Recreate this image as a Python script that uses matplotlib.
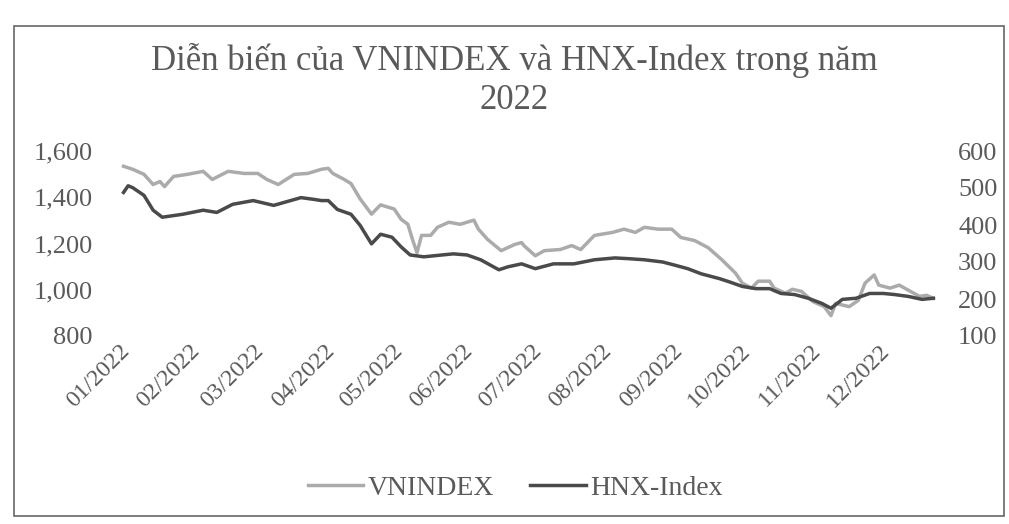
import matplotlib
matplotlib.use("Agg")
import matplotlib.pyplot as plt
from matplotlib.patches import Rectangle
import pandas as pd

# values (day of year 2022 -> index level)
vn_day = [2, 6, 11, 15, 18, 20, 24, 30, 37, 41, 48, 55, 61, 65, 70, 77, 83, 89,
          92, 94, 99, 102, 106, 111, 115, 121, 124, 127, 129, 131, 133, 137, 140,
          145, 150, 156, 158, 162, 168, 174, 177, 178, 183, 187, 194, 199, 203,
          209, 217, 222, 227, 231, 237, 243, 247, 253, 259, 265, 271, 274, 278,
          281, 286, 288, 293, 296, 300, 305, 310, 313, 315, 321, 325, 328, 332,
          334, 339, 343, 347, 352, 355, 358]
vnindex = [1534, 1521, 1499, 1455, 1468, 1446, 1490, 1499, 1512, 1477, 1512, 1503,
           1503, 1477, 1455, 1499, 1503, 1521, 1525, 1503, 1477, 1459, 1393, 1327,
           1367, 1349, 1305, 1283, 1218, 1160, 1235, 1235, 1270, 1292, 1283, 1301,
           1262, 1218, 1169, 1196, 1204, 1191, 1147, 1169, 1174, 1191, 1174, 1235,
           1248, 1262, 1248, 1270, 1262, 1262, 1226, 1213, 1182, 1130, 1072, 1029,
           1007, 1037, 1037, 1007, 985, 1002, 993, 949, 927, 888, 941, 927, 954,
           1029, 1064, 1020, 1007, 1020, 998, 971, 976, 963]

hnx_day = [2, 4, 6, 11, 15, 19, 28, 37, 43, 50, 59, 68, 80, 86, 89, 92, 96, 102,
           106, 111, 115, 120, 124, 128, 134, 142, 147, 153, 159, 167, 171, 177,
           183, 191, 200, 209, 218, 224, 231, 239, 244, 250, 256, 264, 268, 274,
           280, 286, 291, 297, 303, 309, 313, 318, 324, 330, 336, 341, 347, 353, 358]
hnx = [488, 506, 501, 480, 440, 421, 429, 440, 434, 456, 466, 453, 474, 469, 466,
       466, 442, 429, 399, 349, 375, 367, 341, 319, 314, 319, 322, 319, 306, 279,
       287, 295, 282, 295, 295, 306, 311, 309, 306, 300, 292, 282, 268, 255, 247,
       234, 228, 228, 215, 212, 202, 188, 175, 199, 202, 215, 215, 212, 207, 199,
       202]

month_labels = ["01/2022", "02/2022", "03/2022", "04/2022", "05/2022", "06/2022",
                "07/2022", "08/2022", "09/2022", "10/2022", "11/2022", "12/2022"]

title = "Diễn biến của VNINDEX và HNX-Index trong năm\n2022"

start = pd.Timestamp("2022-01-01")
vn_dates = start + pd.to_timedelta(vn_day, unit="D")
hnx_dates = start + pd.to_timedelta(hnx_day, unit="D")
month_ticks = pd.date_range("2022-01-01", periods=12, freq="MS")

plt.rcParams["font.family"] = ["Liberation Serif", "DejaVu Serif"]
txt = "#5a5a5a"
light = "#ababab"
dark = "#4a4a4a"

fig = plt.figure(figsize=(10.09, 5.24), dpi=100)
fig.patch.set_facecolor("white")
fig.patches.append(Rectangle((14 / 1009, 1 - 516 / 524), 990 / 1009, 490 / 524,
                             transform=fig.transFigure, fill=False,
                             edgecolor="#666666", linewidth=1.2))

ax = fig.add_axes([119 / 1009, 1 - 336 / 524, 828 / 1009, 185 / 524])
ax2 = ax.twinx()

ax.plot(vn_dates, vnindex, color=light, lw=2.5, label="VNINDEX")
ax2.plot(hnx_dates, hnx, color=dark, lw=2.5, label="HNX-Index")

ax.set_ylim(800, 1600)
ax.set_yticks([800, 1000, 1200, 1400, 1600])
ax.set_yticklabels(["800", "1,000", "1,200", "1,400", "1,600"])
ax2.set_ylim(100, 600)
ax2.set_yticks([100, 200, 300, 400, 500, 600])

ax.set_xlim(pd.Timestamp("2022-01-01"), pd.Timestamp("2022-12-31"))
ax.set_xticks(month_ticks)
ax.set_xticklabels(month_labels, rotation=45, ha="right", rotation_mode="anchor")

for a in (ax, ax2):
    for s in a.spines.values():
        s.set_visible(False)
    a.tick_params(length=0, labelsize=19, colors=txt)
ax.tick_params(axis="y", pad=19)
ax2.tick_params(axis="y", pad=8)
ax.tick_params(axis="x", pad=3, labelsize=17.5)

fig.text(514 / 1009, 1 - 80 / 524, title, ha="center", va="center", fontsize=25,
         color=txt, linespacing=1.25)

h1, l1 = ax.get_legend_handles_labels()
h2, l2 = ax2.get_legend_handles_labels()
fig.legend(h1 + h2, l1 + l2, loc="center", bbox_to_anchor=(515 / 1009, 1 - 488 / 524),
           ncol=2, frameon=False, fontsize=20, labelcolor=txt, handlelength=2.0,
           handletextpad=0.15, columnspacing=1.3)

fig.savefig("out.png", dpi=100, facecolor="white")
